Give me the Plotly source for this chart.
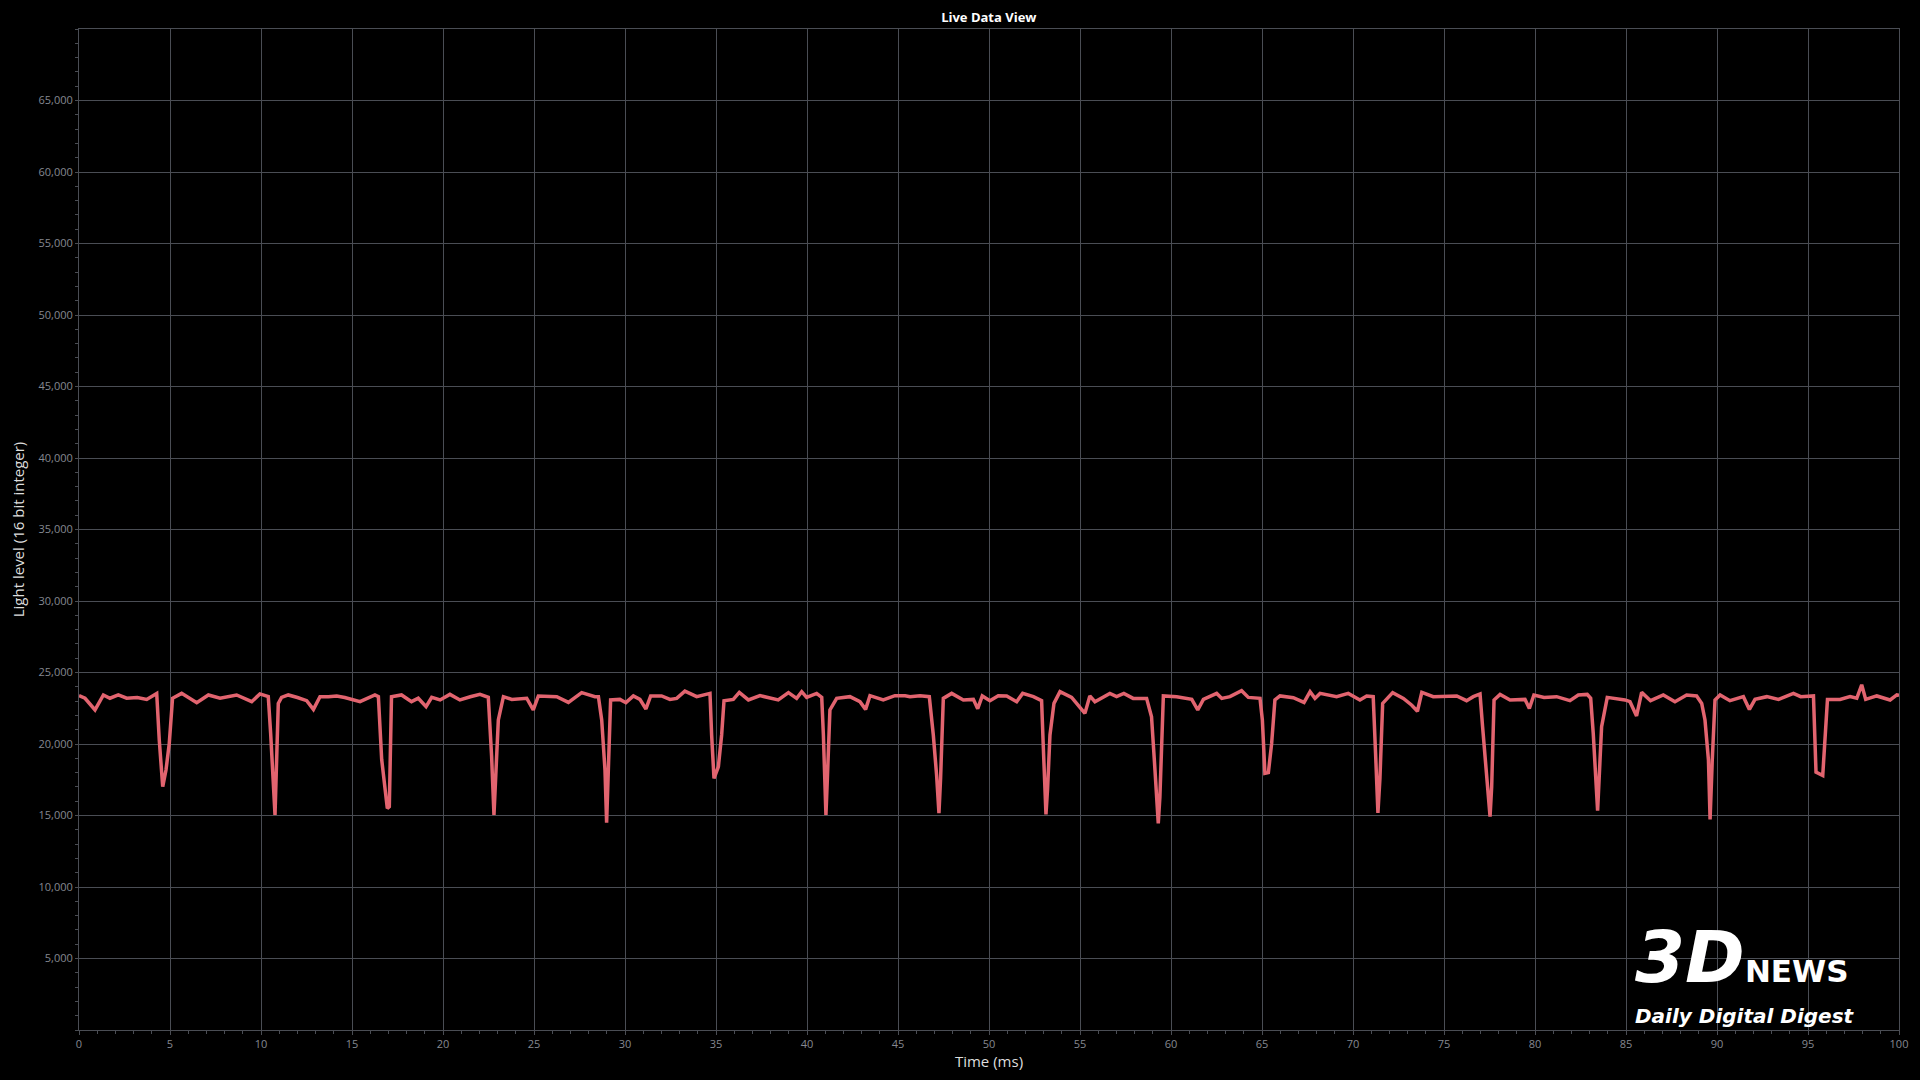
import plotly.graph_objects as go

# Time (ms) and light level readings
time_ms = [
    0.00, 0.33, 0.88, 1.34, 1.70, 2.16, 2.62, 3.20, 3.72, 4.27, 4.41, 4.60, 4.78, 4.96, 5.14,
    5.64, 6.47, 7.11, 7.75, 8.20, 8.66, 9.49, 9.94, 10.40, 10.53, 10.77, 10.95, 11.13, 11.50,
    12.00, 12.51, 12.88, 13.24, 13.70, 14.16, 14.60, 15.07, 15.44, 16.26, 16.45, 16.63, 16.94,
    17.05, 17.17, 17.72, 18.27, 18.64, 19.07, 19.38, 19.84, 20.38, 20.93, 21.50, 22.03, 22.49,
    22.67, 22.80, 22.91, 23.04, 23.32, 23.78, 24.60, 24.96, 25.24, 25.80, 26.25, 26.89, 27.17,
    27.62, 28.35, 28.54, 28.72, 28.90, 28.99, 29.08, 29.21, 29.72, 30.05, 30.46, 30.82, 31.15,
    31.41, 32.01, 32.47, 32.84, 33.29, 33.94, 34.67, 34.76, 34.89, 35.13, 35.31, 35.44, 35.95,
    36.28, 36.78, 37.42, 37.97, 38.42, 38.98, 39.43, 39.71, 39.98, 40.53, 40.81, 40.90, 41.04,
    41.12, 41.26, 41.63, 42.36, 42.91, 43.22, 43.46, 44.19, 44.83, 45.39, 45.66, 46.21, 46.72,
    46.94, 47.12, 47.25, 47.34, 47.49, 47.95, 48.59, 49.14, 49.38, 49.63, 50.05, 50.51, 50.97,
    51.52, 51.85, 52.44, 52.89, 52.98, 53.13, 53.22, 53.35, 53.57, 53.90, 54.54, 54.99, 55.27,
    55.54, 55.82, 56.64, 57.01, 57.41, 57.92, 58.66, 58.93, 59.12, 59.30, 59.39, 59.49, 59.58,
    60.31, 61.14, 61.47, 61.78, 62.51, 62.79, 63.24, 63.88, 64.25, 64.89, 65.02, 65.16, 65.35,
    65.53, 65.71, 65.99, 66.72, 67.31, 67.64, 67.91, 68.19, 69.10, 69.74, 70.38, 70.75, 71.11,
    71.24, 71.37, 71.48, 71.63, 72.18, 72.77, 73.23, 73.54, 73.78, 74.41, 75.70, 76.24, 76.61,
    76.98, 77.12, 77.38, 77.53, 77.62, 77.75, 78.08, 78.63, 79.45, 79.69, 79.94, 80.50, 81.19,
    81.92, 82.38, 82.87, 83.06, 83.20, 83.44, 83.53, 83.66, 83.97, 84.94, 85.22, 85.58, 85.86,
    86.35, 87.05, 87.69, 88.33, 88.88, 89.16, 89.34, 89.53, 89.62, 89.74, 89.89, 90.17, 90.71,
    91.45, 91.78, 92.09, 92.74, 93.38, 94.20, 94.60, 95.30, 95.44, 95.81, 96.07, 96.76, 97.31,
    97.68, 97.95, 98.17, 98.78, 99.51, 99.88, 100.00,
]
light_level = [
    23380, 23200, 22380, 23430, 23200, 23430, 23200, 23250, 23120, 23540, 20280, 17016, 18180, 20045, 23200,
    23540, 22890, 23430, 23200, 23300, 23430, 22960, 23500, 23310, 20740, 15035, 22840, 23260, 23430,
    23250, 23030, 22420, 23310, 23300, 23360, 23250, 23120, 22960, 23430, 23310, 18930, 15500,
    15620, 23310, 23430, 22960, 23200, 22610, 23260, 23080, 23470, 23080, 23300, 23470, 23260,
    19160, 15040, 18000, 21680, 23310, 23120, 23200, 22380, 23360, 23310, 23310, 22910, 23200,
    23590, 23310, 23310, 21680, 18180, 14500, 18180, 23080, 23120, 22890, 23360, 23120, 22450,
    23360, 23360, 23120, 23190, 23700, 23310, 23540, 20630, 17600, 18410, 20630, 23030, 23120,
    23610, 23080, 23380, 23190, 23080, 23590, 23190, 23660, 23260, 23540, 23260, 20630, 15040,
    17600, 22380, 23190, 23310, 22960, 22420, 23380, 23080, 23380, 23380, 23310, 23380, 23310,
    20630, 17840, 15160, 17600, 23190, 23540, 23080, 23120, 22470, 23360, 23030, 23380, 23360,
    22960, 23540, 23310, 23030, 19910, 15080, 16900, 20630, 22840, 23660, 23260, 22610, 22140,
    23360, 22960, 23540, 23310, 23540, 23190, 23190, 21910, 18180, 14440, 16300, 19350, 23360,
    23310, 23120, 22380, 23120, 23540, 23190, 23310, 23730, 23260, 23190, 21680, 17950, 18000,
    20040, 23080, 23360, 23240, 22910, 23660, 23190, 23540, 23310, 23540, 23080, 23360, 23310,
    19350, 15180, 17600, 22840, 23590, 23190, 22710, 22290, 23610, 23310, 23360, 23030, 23310,
    23500, 21210, 17016, 14920, 17016, 23080, 23470, 23080, 23120, 22490, 23430, 23260, 23310,
    23030, 23430, 23470, 23200, 20740, 15340, 18400, 21210, 23260, 23080, 22960, 21960, 23610,
    23030, 23430, 22960, 23430, 23360, 22840, 21680, 18880, 14730, 18880, 23080, 23430, 23030,
    23310, 22420, 23120, 23310, 23120, 23540, 23310, 23360, 18030, 17800, 23120, 23120, 23310,
    23200, 24140, 23120, 23360, 23080, 23430, 23400,
]

y_tick_vals = [5000, 10000, 15000, 20000, 25000, 30000, 35000, 40000, 45000, 50000, 55000, 60000, 65000]
y_tick_text = ["5,000", "10,000", "15,000", "20,000", "25,000", "30,000", "35,000", "40,000",
               "45,000", "50,000", "55,000", "60,000", "65,000"]
x_tick_vals = [0, 5, 10, 15, 20, 25, 30, 35, 40, 45, 50, 55, 60, 65, 70, 75, 80, 85, 90, 95, 100]
x_tick_text = [str(v) for v in x_tick_vals]

GRID = "#4a4d54"
TICKC = "#858890"
FONT = "Open Sans"

fig = go.Figure()
fig.add_trace(go.Scatter(
    x=time_ms, y=light_level, mode="lines",
    line=dict(color="#E2646F", width=3.5),
    showlegend=False,
))

fig.update_layout(
    width=1920, height=1080,
    paper_bgcolor="#000000", plot_bgcolor="#000000",
    margin=dict(l=79, r=21, t=29, b=50),
    title=dict(text="<b>Live Data View</b>", x=0.515, xanchor="center", y=0.984, yanchor="middle",
               font=dict(family=FONT, size=13, color="#ffffff")),
    xaxis=dict(
        range=[0, 100], tickvals=x_tick_vals, ticktext=x_tick_text,
        showgrid=True, gridcolor=GRID, gridwidth=1,
        showline=True, linecolor=GRID, linewidth=1, mirror=True,
        ticks="outside", ticklen=4, tickcolor=GRID,
        minor=dict(dtick=1, ticks="outside", ticklen=3, tickcolor=GRID, showgrid=False),
        tickfont=dict(family=FONT, size=11, color=TICKC),
        zeroline=False, automargin=False,
        title=dict(text="Time (ms)", font=dict(family=FONT, size=15, color="#dedede"), standoff=4),
    ),
    yaxis=dict(
        range=[0, 70000], tickvals=y_tick_vals, ticktext=y_tick_text,
        showgrid=True, gridcolor=GRID, gridwidth=1,
        showline=True, linecolor=GRID, linewidth=1, mirror=True,
        ticks="outside", ticklen=3, tickcolor=GRID,
        minor=dict(dtick=1000, ticks="outside", ticklen=3, tickcolor=GRID, showgrid=False),
        tickfont=dict(family=FONT, size=11, color=TICKC),
        zeroline=False, automargin=False,
        title=dict(text="Light level (16 bit integer)", font=dict(family=FONT, size=15, color="#dedede"), standoff=10),
    ),
)

# Watermark logo
fig.add_annotation(xref="paper", yref="paper", x=0.854, y=0.029, xanchor="left", yanchor="bottom",
                   text="<b><i>3D</i></b><span style='font-size:31px;font-weight:bold'>NEWS</span>",
                   showarrow=False, align="left",
                   font=dict(family="DejaVu Sans", size=72, color="#ffffff"))
fig.add_annotation(xref="paper", yref="paper", x=0.854, y=0.028, xanchor="left", yanchor="top",
                   text="<b><i>Daily Digital Digest</i></b>", showarrow=False, align="left",
                   font=dict(family="DejaVu Sans", size=20, color="#ffffff"))

fig.write_html("out.html", config={"displayModeBar": False},
               post_script="document.body.style.margin='0';document.body.style.overflow='hidden';")
